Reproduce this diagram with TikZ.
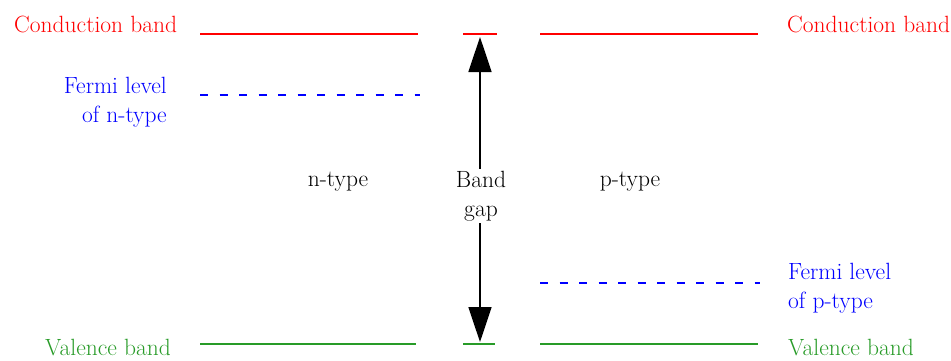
\documentclass[tikz,border=0pt]{standalone}
\usetikzlibrary{arrows.meta}
\definecolor{cband}{RGB}{255,0,0}
\definecolor{fermi}{RGB}{0,0,255}
\definecolor{vband}{RGB}{40,155,40}
\begin{document}
\begin{tikzpicture}[x=1pt,y=-1pt,
  lbl/.style={inner sep=0pt, font=\rmfamily\fontsize{23.5}{29}\selectfont},
  cline/.style={draw=cband, line width=2pt},
  vline/.style={draw=vband, line width=2pt},
  fline/.style={draw=fermi, line width=1.6pt, dash pattern=on 8pt off 11.5pt},
  gaparrow/.style={draw=black, line width=1.5pt, -{Triangle[length=35pt,width=23pt]}, shorten >=2pt}]
\useasboundingbox (0,0) rectangle (951,360);
% conduction band
\coordinate (c1a) at (200,34); \coordinate (c1b) at (418,34);
\coordinate (c2a) at (463,34); \coordinate (c2b) at (497,34);
\coordinate (c3a) at (540,34); \coordinate (c3b) at (758,34);
\path[cline] (c1a) -- (c1b);
\path[cline] (c2a) -- (c2b);
\path[cline] (c3a) -- (c3b);
% valence band
\coordinate (v1a) at (200,344); \coordinate (v1b) at (416,344);
\coordinate (v2a) at (463,344); \coordinate (v2b) at (495,344);
\coordinate (v3a) at (540,344); \coordinate (v3b) at (758,344);
\path[vline] (v1a) -- (v1b);
\path[vline] (v2a) -- (v2b);
\path[vline] (v3a) -- (v3b);
% fermi levels
\coordinate (fna) at (200,95); \coordinate (fnb) at (420,95);
\coordinate (fpa) at (540,283); \coordinate (fpb) at (760,283);
\path[fline] (fna) -- (fnb);
\path[fline] (fpa) -- (fpb);
% labels
\node[lbl, text=cband, anchor=west] (cbl) at (14,24) {Conduction band};
\node[lbl, text=cband, anchor=west] (cbr) at (787,24) {Conduction band};
\node[lbl, text=vband, anchor=west] (vbl) at (45,348) {Valence band};
\node[lbl, text=vband, anchor=west] (vbr) at (788,348) {Valence band};
\node[lbl, text=fermi, align=right, anchor=east] (fnl) at (167,102) {Fermi level\\of n-type};
\node[lbl, text=fermi, align=left, anchor=west] (fpl) at (788,288) {Fermi level\\of p-type};
\node[lbl, anchor=center] (nt) at (338,182) {n-type};
\node[lbl, anchor=center] (pt) at (630,182) {p-type};
\node[lbl, align=center, anchor=center] (bg) at (481,196) {Band\\gap};
% arrows
\coordinate (up) at (480,35);
\coordinate (dn) at (480,344);
\draw[gaparrow] ([yshift=2pt]bg.north -| up) -- (up);
\draw[gaparrow] ([yshift=-2pt]bg.south -| dn) -- (dn);
\end{tikzpicture}
\end{document}
